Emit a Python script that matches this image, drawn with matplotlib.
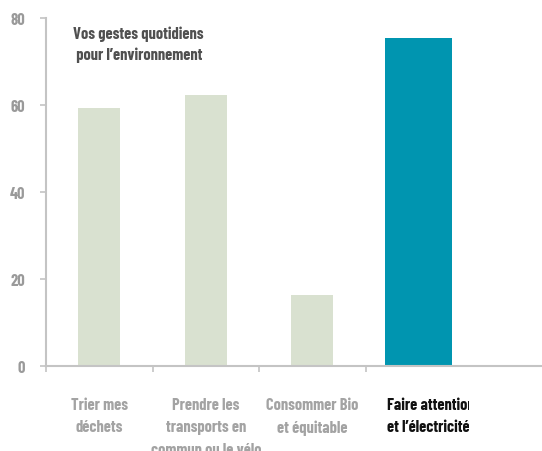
import matplotlib
matplotlib.use("Agg")
import matplotlib.pyplot as plt
from matplotlib import font_manager as fm
from matplotlib.transforms import Bbox, offset_copy

categories = ["Trier mes\ndéchets",
              "Prendre les\ntransports en\ncommun ou le vélo",
              "Consommer Bio\net équitable",
              "Faire attention\net l’électricité"]
values = [59.3, 62.3, 16.4, 75.3]
highlight = [False, False, False, True]
yticks = [0, 20, 40, 60, 80]
title = "Vos gestes quotidiens\n pour l’environnement"

names = {f.name for f in fm.fontManager.ttflist}
fam = [n for n in ["Barlow Condensed", "Roboto Condensed", "Archivo Narrow", "DejaVu Sans"] if n in names]
plt.rcParams['font.family'] = fam
FS = 11.8
W = 700
LS = 1.62

green = "#d9e1d0"
blue = "#0095b0"
axis_col = "#c4c4c4"
label_grey = "#a3a3a3"

fig = plt.figure(figsize=(5.42, 4.52), dpi=100)
ax = fig.add_axes([46/542, 1-367/452, 1-46/542, (367-18.6)/452])

x = [i + 0.5 for i in range(len(values))]
widths = [0.63 if h else 0.395 for h in highlight]
colors = [blue if h else green for h in highlight]
ax.bar(x, values, width=widths, color=colors, zorder=2)

ax.set_xlim(0, 4.655)
ax.set_ylim(0, 80)
for s in ["top", "right"]:
    ax.spines[s].set_visible(False)
for s in ["left", "bottom"]:
    ax.spines[s].set_color(axis_col)
    ax.spines[s].set_linewidth(1.5)

ax.set_yticks(yticks)
ax.set_yticklabels([str(v) for v in yticks])
ax.tick_params(axis='y', length=4.3, width=1.2, color=axis_col, pad=10.8,
               labelsize=FS, labelcolor="#9a9a9a")
for t in ax.get_yticklabels():
    t.set_fontweight(W)
ax.set_xticks([0, 1, 2, 3])
ax.set_xticklabels([])
ax.tick_params(axis='x', length=4.3, width=1.2, color=axis_col)

trans = ax.get_xaxis_transform()
for i, (lab, h) in enumerate(zip(categories, highlight)):
    if h:
        t = ax.text(x[i] - widths[i]/2, 0, lab, transform=offset_copy(trans, fig=fig, x=2, y=-31, units='dots'),
                    ha='left', va='top', fontsize=FS, fontweight=W, color="#111111",
                    linespacing=LS)
        t.set_clip_box(Bbox.from_extents(0, 0, 469, 452))
        t.set_clip_on(True)
    else:
        ax.text(x[i], 0, lab, transform=offset_copy(trans, fig=fig, y=-31, units='dots'),
                ha='center', va='top', fontsize=FS, fontweight=W, color=label_grey,
                linespacing=LS, multialignment='center', clip_on=False)

fig.text(138/542, 1-26/452, title, ha='center', va='top', fontsize=FS, fontweight=W,
         color="#505050", linespacing=1.5, multialignment='center')

fig.savefig("out.png", dpi=100)
